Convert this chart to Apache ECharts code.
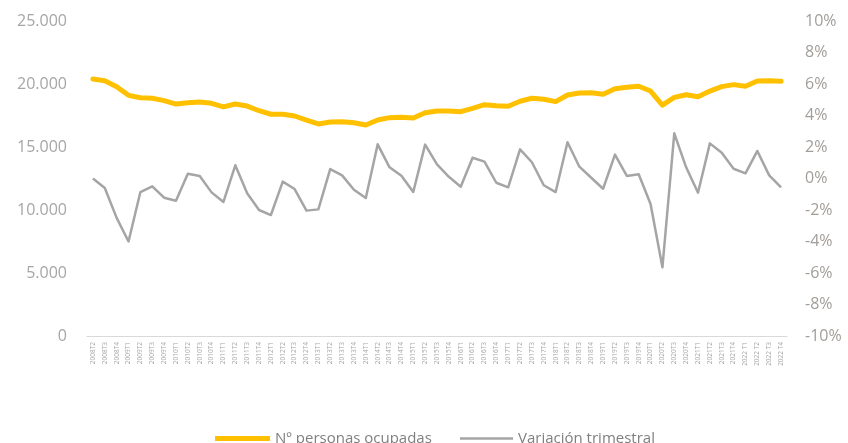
<!DOCTYPE html>
<html>
<head>
<meta charset="utf-8">
<script src="https://cdn.jsdelivr.net/npm/echarts@6/dist/echarts.min.js"></script>
<style>
html,body{margin:0;padding:0;background:#fff;}
#chart{width:848px;height:443px;}
</style>
</head>
<body>
<div id="chart"></div>
<script>
var categories = ["2008T2","2008T3","2008T4",
"2009T1","2009T2","2009T3","2009T4",
"2010T1","2010T2","2010T3","2010T4",
"2011T1","2011T2","2011T3","2011T4",
"2012T1","2012T2","2012T3","2012T4",
"2013T1","2013T2","2013T3","2013T4",
"2014T1","2014T2","2014T3","2014T4",
"2015T1","2015T2","2015T3","2015T4",
"2016T1","2016T2","2016T3","2016T4",
"2017T1","2017T2","2017T3","2017T4",
"2018T1","2018T2","2018T3","2018T4",
"2019T1","2019T2","2019T3","2019T4",
"2020T1","2020T2","2020T3","2020T4",
"2021T1","2021T2","2021T3","2021T4",
"2022 T1","2022 T2","2022 T3","2022 T4"];

var ocupados = [20400,20260,19790,19100,18910,18870,18680,18410,18520,18570,
18470,18180,18410,18250,17880,17600,17600,17460,17140,16830,
16980,17010,16930,16750,17140,17330,17360,17300,17720,17860,
17860,17800,18070,18360,18280,18230,18630,18870,18790,18600,
19130,19290,19310,19180,19620,19740,19820,19440,18330,18940,
19150,18990,19440,19790,19950,19820,20240,20260,20210];

var variacion = [0.0,-0.6,-2.5,-4.0,-0.86,-0.5,-1.22,-1.41,0.3,0.16,
-0.88,-1.49,0.84,-0.94,-2.0,-2.32,-0.2,-0.67,-2.04,-1.96,
0.6,0.2,-0.71,-1.24,2.17,0.71,0.18,-0.86,2.15,0.9,
0.11,-0.52,1.32,1.07,-0.27,-0.56,1.85,1.03,-0.43,-0.86,
2.3,0.75,0.05,-0.65,1.52,0.16,0.27,-1.62,-5.64,2.87,
0.71,-0.9,2.23,1.64,0.62,0.33,1.75,0.2,-0.56];

var seriesNames = ["N\u00ba personas ocupadas","Variaci\u00f3n trimestral"];

var chart = echarts.init(document.getElementById('chart'), null, {renderer:'canvas'});
var font = "'Open Sans', sans-serif";
chart.setOption({
  animation:false,
  backgroundColor:'#ffffff',
  grid:{left:87,right:61,top:21,bottom:107,containLabel:false},
  legend:[{
    data:[{name:seriesNames[0], icon:'rect'}],
    left:210, top:426, itemWidth:55, itemHeight:5, itemGap:20,
    textStyle:{color:'#7f7f7f',fontSize:15,fontFamily:font}
  },{
    data:[{name:seriesNames[1], icon:'rect'}],
    left:455, top:426, itemWidth:53, itemHeight:2.5, itemGap:20,
    textStyle:{color:'#7f7f7f',fontSize:15,fontFamily:font}
  }],
  xAxis:{
    type:'category',
    data:categories,
    boundaryGap:true,
    axisLine:{show:true,lineStyle:{color:'#d9d9d9',width:1}},
    axisTick:{show:false},
    axisLabel:{interval:0,rotate:90,fontSize:6.5,color:'#a6a6a6',fontFamily:font,margin:6}
  },
  yAxis:[{
    type:'value',min:0,max:25000,interval:5000,
    axisLine:{show:false},axisTick:{show:false},
    splitLine:{show:false},
    axisLabel:{fontSize:16,color:'#a6a6a6',fontFamily:font,margin:20,
      formatter:function(v){return String(v).replace(/\B(?=(\d{3})+(?!\d))/g,'.');}}
  },{
    type:'value',min:-10,max:10,interval:2,
    axisLine:{show:false},axisTick:{show:false},
    splitLine:{show:false},
    axisLabel:{fontSize:16,color:'#a29d98',fontFamily:font,margin:18,formatter:'{value}%'}
  }],
  series:[{
    name:seriesNames[0],type:'line',yAxisIndex:0,data:ocupados,
    symbol:'none',smooth:false,
    lineStyle:{color:'#ffc000',width:5,cap:'round',join:'round'},
    itemStyle:{color:'#ffc000'}
  },{
    name:seriesNames[1],type:'line',yAxisIndex:1,data:variacion,
    symbol:'none',smooth:false,
    lineStyle:{color:'#a5a5a5',width:2.5,join:'round'},
    itemStyle:{color:'#a5a5a5'}
  }]
});
</script>
</body>
</html>
